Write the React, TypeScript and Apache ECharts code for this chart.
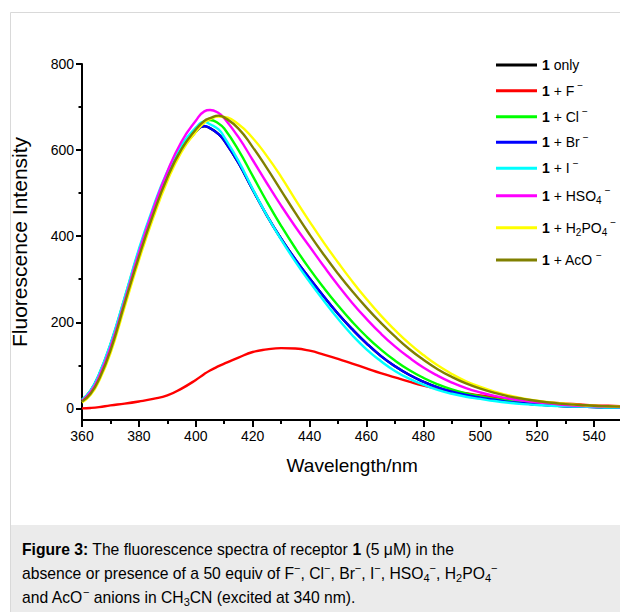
import React, { useEffect, useRef } from 'react';
import * as echarts from 'echarts';

const FONT = '"Liberation Sans", Arial, Helvetica, sans-serif';

// Wavelength samples (nm)
const wavelengths = [360, 363, 366, 370, 375, 380, 385, 390, 395, 400, 403, 405, 408, 410, 415, 420, 425, 430, 435, 440, 445, 450, 455, 460, 465, 470, 475, 480, 485, 490, 495, 500, 505, 510, 515, 520, 525, 530, 535, 540, 545, 550];

// Fluorescence intensities ("1 only" is hidden under the Br⁻ trace)
const onlyValues = [19, 40, 77, 146, 252, 362, 458, 540, 600, 643, 655, 651, 637, 622, 570, 508, 448, 394, 346, 302, 260, 220, 184, 151, 122, 98, 78, 62, 49, 39, 31, 25, 20, 15, 12, 9, 7, 5, 4, 3, 2, 2];
const fValues = [0, 1, 3, 7, 11, 16, 22, 30, 46, 66, 80, 88, 98, 104, 118, 131, 137, 140, 139, 134, 125, 115, 104, 93, 82, 72, 62, 53, 46, 40, 35, 30, 26, 22, 19, 16, 13, 11, 9, 7, 6, 5];
const clValues = [20, 41, 79, 148, 256, 366, 463, 546, 607, 650, 667, 670, 662, 650, 600, 540, 480, 424, 372, 324, 280, 239, 201, 167, 137, 111, 89, 71, 56, 44, 35, 28, 22, 17, 13, 10, 8, 6, 5, 4, 3, 2];
const brValues = [19, 40, 77, 146, 252, 362, 458, 540, 600, 643, 656, 651, 637, 622, 570, 508, 448, 394, 346, 302, 260, 220, 184, 151, 122, 98, 78, 62, 49, 39, 31, 25, 20, 15, 12, 9, 7, 5, 4, 3, 2, 2];
const iValues = [20, 42, 80, 150, 258, 370, 467, 550, 612, 652, 666, 660, 648, 630, 575, 510, 448, 392, 341, 294, 250, 208, 170, 137, 110, 87, 69, 55, 43, 34, 27, 22, 17, 13, 10, 8, 6, 5, 4, 3, 2, 2];
const hso4Values = [18, 38, 74, 142, 250, 362, 462, 550, 620, 668, 690, 693, 686, 674, 630, 577, 523, 471, 422, 376, 330, 286, 245, 208, 174, 144, 118, 95, 76, 60, 47, 37, 29, 23, 18, 14, 11, 8, 6, 5, 4, 3];
const h2po4Values = [14, 31, 64, 128, 236, 344, 442, 528, 596, 642, 664, 672, 678, 677, 660, 628, 586, 538, 485, 434, 385, 339, 295, 254, 216, 182, 151, 124, 100, 80, 63, 50, 39, 30, 23, 18, 14, 11, 8, 6, 5, 4];
const acoValues = [16, 34, 68, 134, 244, 352, 450, 536, 602, 648, 668, 674, 680, 676, 650, 607, 558, 506, 454, 404, 357, 313, 272, 234, 199, 167, 138, 113, 91, 73, 58, 46, 36, 28, 22, 17, 13, 10, 8, 6, 5, 4];

const seriesNames = ['1 only', '1 + F⁻', '1 + Cl⁻', '1 + Br⁻', '1 + I⁻', '1 + HSO₄⁻', '1 + H₂PO₄⁻', '1 + AcO⁻'];
const seriesValues = [onlyValues, fValues, clValues, brValues, iValues, hso4Values, h2po4Values, acoValues];
const seriesColors = ['#000000', '#ff0000', '#00ff00', '#0000ff', '#00ffff', '#ff00ff', '#ffff00', '#808000'];

// Axis ticks
const xTickLabels = [360, 380, 400, 420, 440, 460, 480, 500, 520, 540];
const xMinorTicks = [370, 390, 410, 430, 450, 470, 490, 510, 530];
const yTickLabels = [0, 200, 400, 600, 800];
const yMinorTicks = [100, 300, 500, 700];

const legendRich: Record<string, string> = {
  '1 only': '{b|1}{n| only}',
  '1 + F⁻': '{b|1}{n| + F}{sup|−}',
  '1 + Cl⁻': '{b|1}{n| + Cl}{sup|−}',
  '1 + Br⁻': '{b|1}{n| + Br}{sup|−}',
  '1 + I⁻': '{b|1}{n| + I}{sup|−}',
  '1 + HSO₄⁻': '{b|1}{n| + HSO}{sub|4}{sup|−}',
  '1 + H₂PO₄⁻': '{b|1}{n| + H}{sub|2}{n|PO}{sub|4}{sup|−}',
  '1 + AcO⁻': '{b|1}{n| + AcO}{sup|−}',
};
const legendCenters = [65, 90.7, 116.7, 142.3, 168.3, 195.7, 227.7, 260];

const captionLines = [
  '{b|Figure 3:}{n| The fluorescence spectra of receptor }{b|1}{n| (5 μM) in the}',
  '{n|absence or presence of a 50 equiv of F}{sup|−}{n|, Cl}{sup|−}{n|, Br}{sup|−}{n|, I}{sup|−}{n|, HSO}{sub|4}{sup|−}{n|, H}{sub|2}{n|PO}{sub|4}{sup|−}',
  '{n|and AcO}{sup|−}{n| anions in CH}{sub|3}{n|CN (excited at 340 nm).}',
];

function buildOption(): any {
  const axisLineStyle = { color: '#000', width: 2 };
  const tickLabelStyle = { color: '#000', fontSize: 14, fontFamily: FONT };
  const legendTextRich = {
    n: { fontSize: 14, fontFamily: FONT, color: '#000', lineHeight: 20 },
    b: { fontSize: 14, fontFamily: FONT, fontWeight: 'bold', color: '#000', lineHeight: 20 },
    sub: { fontSize: 10, fontFamily: FONT, color: '#000', lineHeight: 20, verticalAlign: 'bottom', height: 11 },
    sup: { fontSize: 10, fontFamily: FONT, color: '#000', lineHeight: 20, verticalAlign: 'top', height: 10.5, padding: [0, 0, 0, 3] },
  };
  const capFs = 15.7;
  const captionRich = {
    n: { fontSize: capFs, fontFamily: FONT, fill: '#000', lineHeight: 24 },
    b: { fontSize: capFs, fontFamily: FONT, fontWeight: 'bold', fill: '#000', lineHeight: 24 },
    sub: { fontSize: 11, fontFamily: FONT, fill: '#000', lineHeight: 24, verticalAlign: 'bottom', height: 13.5 },
    sup: { fontSize: 11, fontFamily: FONT, fill: '#000', lineHeight: 24, verticalAlign: 'top', height: 14 },
  };

  return {
    animation: false,
    backgroundColor: '#ffffff',
    textStyle: { fontFamily: FONT },
    grid: { left: 82, top: 64, right: 17.5, bottom: 192, containLabel: false },
    xAxis: [
      {
        type: 'value', min: 360, max: 550, interval: 20, position: 'bottom',
        axisLine: { show: true, onZero: false, lineStyle: axisLineStyle },
        axisTick: { show: true, length: 7, customValues: xTickLabels, lineStyle: { color: '#000', width: 2 } },
        axisLabel: { customValues: xTickLabels, margin: 9, ...tickLabelStyle },
        splitLine: { show: false },
        name: 'Wavelength/nm', nameLocation: 'middle', nameGap: 36,
        nameTextStyle: { color: '#000', fontSize: 19, fontFamily: FONT },
      },
      {
        type: 'value', min: 360, max: 550, position: 'bottom',
        axisLine: { show: false, onZero: false },
        axisTick: { show: true, length: 4, customValues: xMinorTicks, lineStyle: { color: '#000', width: 2 } },
        axisLabel: { show: false },
        splitLine: { show: false },
      },
    ],
    yAxis: [
      {
        type: 'value', min: -27, max: 800, position: 'left',
        axisLine: { show: true, onZero: false, lineStyle: axisLineStyle },
        axisTick: { show: true, length: 6, customValues: yTickLabels, lineStyle: { color: '#000', width: 2 } },
        axisLabel: { customValues: yTickLabels, margin: 8, ...tickLabelStyle },
        splitLine: { show: false },
        name: 'Fluorescence Intensity', nameLocation: 'middle', nameGap: 52,
        nameTextStyle: { color: '#000', fontSize: 21, fontFamily: FONT },
      },
      {
        type: 'value', min: -27, max: 800, position: 'left',
        axisLine: { show: false, onZero: false },
        axisTick: { show: true, length: 3.5, customValues: yMinorTicks, lineStyle: { color: '#000', width: 2 } },
        axisLabel: { show: false },
        splitLine: { show: false },
      },
    ],
    legend: seriesNames.map((name, i) => ({
      data: [name],
      left: 496,
      top: legendCenters[i] - 10,
      padding: 0,
      icon: 'rect',
      itemWidth: 41,
      itemHeight: 3,
      selectedMode: false,
      formatter: (n: string) => legendRich[n],
      textStyle: { color: '#000', fontSize: 14, fontFamily: FONT, lineHeight: 20, rich: legendTextRich },
    })),
    series: seriesNames.map((name, i) => ({
      name,
      type: 'line',
      xAxisIndex: 0,
      yAxisIndex: 0,
      showSymbol: false,
      symbol: 'none',
      smooth: 0.5,
      color: seriesColors[i],
      lineStyle: { color: seriesColors[i], width: 2.4 },
      data: wavelengths.map((w, k) => [w, seriesValues[i][k]]),
    })),
    graphic: [
      {
        type: 'rect', z: -10,
        shape: { x: 10.5, y: 12.5, width: 700, height: 700 },
        style: { fill: 'none', stroke: '#d9d9d9', lineWidth: 1 },
      },
      {
        type: 'rect', z: -9,
        shape: { x: 11, y: 525, width: 700, height: 100 },
        style: { fill: '#ebebeb' },
      },
      {
        type: 'text', z: 10,
        x: 22, y: 537,
        style: {
          text: captionLines.join('\n'),
          rich: captionRich,
          fontSize: capFs,
          fontFamily: FONT,
          lineHeight: 24,
          fill: '#000',
          verticalAlign: 'top',
          align: 'left',
        },
      },
    ],
  };
}

export default function App() {
  const ref = useRef<HTMLDivElement>(null);
  useEffect(() => {
    if (!ref.current) return;
    const chart = echarts.init(ref.current, null, { renderer: 'svg' });
    chart.setOption(buildOption());
    return () => chart.dispose();
  }, []);
  return (
    <div style={{ position: 'absolute', left: 0, top: 0, width: 620, height: 612, overflow: 'hidden', background: '#fff' }}>
      <div ref={ref} style={{ width: 640, height: 612 }} />
    </div>
  );
}
